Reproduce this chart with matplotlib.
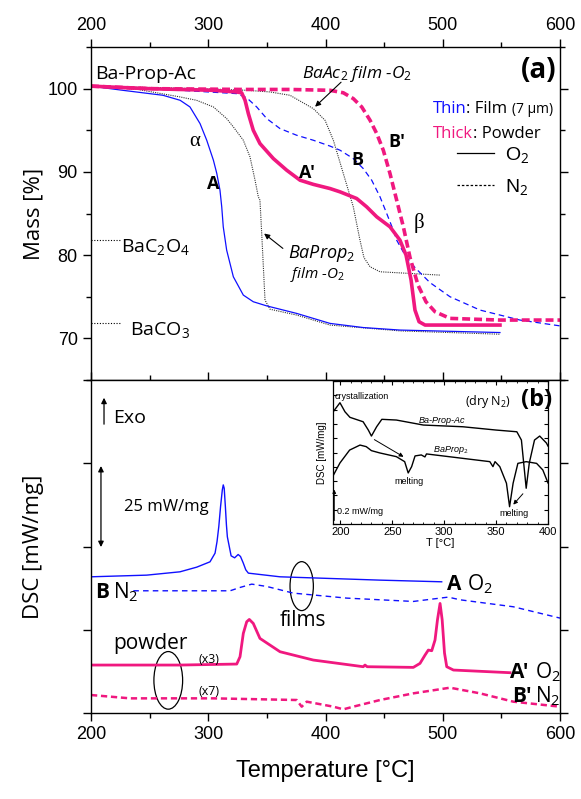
import matplotlib
matplotlib.use('Agg')
import matplotlib.pyplot as plt
from matplotlib.patches import Ellipse
from matplotlib.lines import Line2D
from matplotlib.ticker import MultipleLocator, NullFormatter

plt.rcParams['font.family'] = ['Liberation Sans', 'DejaVu Sans']
plt.rcParams['mathtext.fontset'] = 'custom'
plt.rcParams['mathtext.rm'] = 'Open Sans'
plt.rcParams['mathtext.it'] = 'Open Sans:italic'
plt.rcParams['mathtext.bf'] = 'Open Sans:bold'

BLUE = '#1010ff'
PINK = '#f0187f'
GREY = '#333333'
OS = 'Open Sans'

# ---- (a) TGA, mass [%] vs T [C]
film_o2_T = [200, 227, 261.4, 276, 284.4, 293, 298.7, 304.4, 307.3, 310, 311.5, 312.8, 315.7,
             321.4, 329.9, 338.4, 349.9, 375.4, 403.8, 432.2, 463.5, 548.8]
film_o2_m = [100.3, 99.8, 99.2, 98.6, 97.8, 95.8, 93.8, 91.4, 89.8, 87.8, 85.8, 83.4, 80.6,
             77.4, 75.2, 74.4, 73.9, 73.0, 71.8, 71.3, 71.0, 70.7]

film_n2_T = [200, 276, 324.3, 332.8, 341.3, 349.9, 361.2, 375.4, 389.6, 403.8, 412.4, 423.7, 432.2,
             439.4, 446.5, 452.2, 457.8, 460.7, 467.8, 476.3, 489.1, 506.2, 531.8, 565.9, 600]
film_n2_m = [100.3, 99.8, 99.4, 98.9, 97.8, 96.4, 95.2, 94.4, 93.8, 93.1, 92.6, 91.6, 90.4,
             89.0, 87.0, 85.0, 83.0, 81.8, 80.0, 78.5, 76.7, 75.0, 73.4, 72.2, 71.5]

powder_o2_T = [200, 247.5, 304, 324, 328.5, 331.4, 334.2, 338.4, 344.1, 355.5, 366.9, 378.3, 389.6,
               403.8, 412.4, 426.6, 435.1, 443.7, 455, 463.5, 468.7, 473, 476.3, 479.8, 484.9, 548.8]
powder_o2_m = [100.3, 100.0, 99.8, 99.6, 99.5, 98.6, 97.0, 95.0, 93.4, 91.6, 90.2, 89.0, 88.5,
               88.0, 87.6, 86.8, 85.8, 84.6, 83.4, 81.8, 80.0, 77.0, 73.4, 72.0, 71.6, 71.6]

powder_n2_T = [200, 250, 330, 369.7, 403.8, 415.2, 423.7, 430.9, 438, 443.7, 449.3, 455, 460.7,
               466.4, 472.1, 478.9, 485.7, 493.4, 506.2, 548.8, 600]
powder_n2_m = [100.3, 100.0, 99.9, 99.9, 99.8, 99.5, 98.8, 97.8, 96.2, 94.6, 92.6, 89.8, 86.6,
               83.4, 79.7, 76.4, 74.4, 73.2, 72.4, 72.2, 72.2]

baprop_T = [200, 240, 276, 290, 304.4, 315.7, 321.4, 329.9, 335.6, 339.9, 342.7, 344.1, 345.6,
            347, 348.4, 352.7, 375.4, 403.8, 463.5, 548.8]
baprop_m = [100.3, 99.9, 99.0, 98.6, 97.8, 96.4, 95.4, 93.8, 91.8, 89.0, 87.0, 86.6, 82.6,
            78.6, 74.6, 73.5, 72.8, 71.6, 70.9, 70.5]

baac_T = [200, 293, 333, 352.7, 369.7, 389.6, 399.6, 406.7, 415.2, 423.7, 429.4, 432.8, 438, 446.5, 497.7]
baac_m = [100.3, 100.0, 99.8, 99.6, 99.2, 97.6, 96.2, 93.8, 89.8, 85.8, 81.8, 79.7, 78.6, 78.0, 77.6]

ref_names = ['BaC$_2$O$_4$', 'BaCO$_3$']
ref_mass = [81.8, 71.8]

# ---- (b) DSC (arb. offset, 25 units = 25 mW/mg)
film_o2_dsc_T = [200, 247.5, 275.9, 290.2, 301.5, 305.8, 307.5, 309, 310.5, 312, 312.8, 313.6, 314.6,
                 315.5, 316.3, 319.5, 322.5, 325.5, 327.5, 329.9, 332, 334.2, 361.2, 403.8, 446.5, 499.1]
film_o2_dsc = [40.9, 41.4, 42.4, 43.8, 45.4, 48.0, 51.5, 56.0, 62.0, 67.0, 68.5, 67.5, 62.0,
               56.5, 52.9, 47.2, 46.6, 47.6, 47.0, 45.0, 43.0, 42.0, 40.9, 40.4, 39.9, 39.4]

film_n2_dsc_T = [236.1, 318.6, 327.1, 337.1, 349.9, 372.5, 418.1, 474.9, 497.7, 504.7, 514.7, 560.2, 600]
film_n2_dsc = [36.7, 36.7, 37.7, 38.7, 38.0, 36.0, 34.5, 33.5, 34.5, 34.8, 34.0, 31.9, 28.5]

powder_o2_dsc_T = [200, 275.9, 324.3, 327.1, 329.9, 332.8, 335, 338.4, 344.1, 361.2, 389.6, 432.2,
                   433.7, 435.5, 474.9, 480.6, 484.9, 487.7, 490.6, 493.4, 495.5, 497.7, 499.5,
                   501.5, 503.4, 509.1, 557.4]
powder_o2_dsc = [14.4, 14.4, 14.7, 16.9, 23.9, 27.4, 28.1, 26.9, 22.4, 18.4, 15.9, 13.9,
                 14.4, 13.9, 13.7, 14.9, 17.4, 18.9, 18.7, 21.9, 28.0, 32.9, 28.0,
                 18.0, 13.9, 12.9, 12.1]

powder_n2_dsc_T = [200, 233.3, 304.3, 375.4, 379.7, 384, 406.7, 415.2, 423.7, 446.5, 474.9, 506.2,
                   531.8, 560.2, 600]
powder_n2_dsc = [5.4, 4.4, 4.4, 3.9, 1.9, 3.4, 1.9, 1.1, 1.9, 3.9, 5.9, 7.6, 5.9, 3.4, 1.9]

# ---- inset, dry N2
ins_bpa_T = [193, 199.7, 204.5, 209.3, 222, 227, 230, 235, 240, 254, 280, 318, 350, 370, 374.4,
             379, 382, 387, 392, 398.5, 400]
ins_bpa = [7.83, 8.48, 7.85, 7.46, 7.15, 6.57, 6.15, 6.80, 7.32, 7.27, 6.92, 6.80, 6.57, 6.45, 5.87,
           2.50, 4.27, 5.87, 6.15, 5.66, 5.45]
ins_bp_T = [193, 199.7, 209, 219, 225, 230, 238, 254, 262, 265.4, 268.7, 272, 278, 281.5, 283, 318,
            344, 347, 349, 353.6, 360, 363, 366.4, 371, 379, 389, 395, 400]
ins_bp = [3.36, 4.27, 5.17, 5.52, 5.41, 5.13, 4.97, 4.71, 4.36, 3.57, 4.01, 4.76, 4.83, 4.69, 4.90, 4.59,
          4.36, 4.01, 4.36, 4.01, 2.85, 1.21, 2.85, 4.24, 4.36, 4.24, 3.78, 2.87]

fig = plt.figure(figsize=(5.81, 7.99), dpi=100)
ax1 = fig.add_axes([91/581, 1-380/799, 469/581, 333/799])
ax2 = fig.add_axes([91/581, 1-713/799, 469/581, 333/799])
ins = fig.add_axes([333/581, 1-524/799, 215/581, 143/799])

for ax in (ax1, ax2):
    ax.set_xlim(200, 600)
    ax.xaxis.set_major_locator(MultipleLocator(100))
    ax.xaxis.set_minor_locator(MultipleLocator(50))
    for s in ax.spines.values():
        s.set_linewidth(1.0)
    ax.tick_params(which='both', direction='out', width=1.0, labelsize=13)
    ax.tick_params(which='major', length=6)
    ax.tick_params(which='minor', length=3.5)

# panel a
ax1.set_ylim(65, 105)
ax1.yaxis.set_major_locator(MultipleLocator(10))
ax1.yaxis.set_minor_locator(MultipleLocator(5))
ax1.tick_params(axis='x', which='both', top=True, bottom=False, labeltop=True, labelbottom=False)
ax1.tick_params(axis='y', which='both', left=True, right=True, labelright=False)
ax1.set_ylabel('Mass [%]', fontsize=16, family=OS)
ax1.yaxis.set_label_coords(-0.1, 0.5)

ax1.plot(baprop_T, baprop_m, color=GREY, lw=0.8, ls=(0, (1, 1)))
ax1.plot(baac_T, baac_m, color=GREY, lw=0.8, ls=(0, (1, 1)))
ax1.plot(film_o2_T, film_o2_m, color=BLUE, lw=0.9)
ax1.plot(film_n2_T, film_n2_m, color=BLUE, lw=0.9, ls=(0, (4.5, 3)))
ax1.plot(powder_n2_T, powder_n2_m, color=PINK, lw=2.6, ls=(0, (2.2, 1.1)))
ax1.plot(powder_o2_T, powder_o2_m, color=PINK, lw=2.6)

for nm, m, xt in zip(ref_names, ref_mass, [225.6, 233.3]):
    ax1.axhline(m, xmin=0, xmax=0.065, color='k', lw=0.8, ls=(0, (1, 1.5)))
    ax1.text(xt, m - 1.4, nm, fontsize=14, family=OS, va='baseline')

ax1.text(203.4, 101.8, 'Ba-Prop-Ac', fontsize=14, family=OS, va='center')
ax1.text(597, 102.2, '(a)', fontsize=20, family=OS, fontweight='bold', ha='right', va='center')
ax1.text(426.9, 101.3, 'BaAc$_2$ film -O$_2$', fontsize=12.5, family=OS, style='italic',
         ha='center', va='baseline')
ax1.annotate('', xy=(389.4, 97.6), xytext=(415, 101.0),
             arrowprops=dict(arrowstyle='-|>', color='k', lw=0.8, mutation_scale=8))
ax1.text(397, 79.6, 'BaProp$_2$', fontsize=13, family=OS, style='italic', ha='center', va='baseline')
ax1.text(393, 77.3, 'film -O$_2$', fontsize=11, family=OS, style='italic', ha='center', va='baseline')
ax1.annotate('', xy=(345.8, 82.8), xytext=(365.5, 80.6),
             arrowprops=dict(arrowstyle='-|>', color='k', lw=0.8, mutation_scale=8))

ax1.text(288.7, 93.6, 'α', fontsize=15, family='Liberation Serif', ha='center', va='center')
ax1.text(480, 83.8, 'β', fontsize=15, family='Liberation Serif', ha='center', va='center')
for lab, x, y in [('A', 304.1, 88.5), ("A'", 384.2, 89.9), ('B', 426.9, 91.4), ("B'", 461, 93.6)]:
    ax1.text(x, y, lab, fontsize=13, family=OS, fontweight='bold', ha='center', va='center')

t = ax1.text(491.4, 97.6, 'Thin', color=BLUE, fontsize=12, family=OS, va='center')
t = ax1.annotate(': Film ', xy=(1, 0), xycoords=t, va='bottom', fontsize=12, family=OS)
ax1.annotate('(7 μm)', xy=(1, 0), xycoords=t, va='bottom', fontsize=10, family=OS)
t = ax1.text(491.4, 94.6, 'Thick', color=PINK, fontsize=12, family=OS, va='center')
ax1.annotate(': Powder', xy=(1, 0), xycoords=t, va='bottom', fontsize=12, family=OS)

handles = [Line2D([], [], color='k', lw=0.9), Line2D([], [], color='k', lw=0.9, ls=(0, (2, 1.5)))]
leg = ax1.legend(handles, ['O$_2$', 'N$_2$'], loc='upper left', bbox_to_anchor=(0.78, 0.705),
                 frameon=False, fontsize=14, handlelength=1.9, handletextpad=0.6,
                 labelspacing=0.6, borderpad=0, borderaxespad=0)

# panel b
ax2.set_ylim(0, 100)
ax2.yaxis.set_major_locator(MultipleLocator(25))
ax2.yaxis.set_major_formatter(NullFormatter())
ax2.tick_params(axis='y', which='both', left=True, right=True, labelleft=False)
ax2.tick_params(axis='x', which='both', top=True, direction='out')
ax2.set_xlabel('Temperature [°C]', fontsize=17, labelpad=12)
ax2.set_ylabel('DSC [mW/mg]', fontsize=16, family=OS)
ax2.yaxis.set_label_coords(-0.1, 0.5)

ax2.plot(film_o2_dsc_T, film_o2_dsc, color=BLUE, lw=1.0)
ax2.plot(film_n2_dsc_T, film_n2_dsc, color=BLUE, lw=1.0, ls=(0, (4, 3)))
ax2.plot(powder_o2_dsc_T, powder_o2_dsc, color=PINK, lw=2.0)
ax2.plot(powder_n2_dsc_T, powder_n2_dsc, color=PINK, lw=1.8, ls=(0, (2.5, 1.5)))

ax2.annotate('', xy=(211.1, 95.5), xytext=(211.1, 85.9),
             arrowprops=dict(arrowstyle='-|>', color='k', lw=0.9, mutation_scale=8))
ax2.text(218.8, 88.6, 'Exo', fontsize=14, family=OS, va='center')
ax2.annotate('', xy=(208.5, 49), xytext=(208.5, 75),
             arrowprops=dict(arrowstyle='<|-|>', color='k', lw=0.9, mutation_scale=8))
ax2.text(228, 62, '25 mW/mg', fontsize=12, family=OS, va='center')

ax2.text(203.4, 34.4, 'B', fontsize=15, family=OS, fontweight='bold', va='baseline')
ax2.text(219, 34.4, 'N$_2$', fontsize=15, family=OS, va='baseline')
ax2.text(503.4, 36.9, 'A', fontsize=15, family=OS, fontweight='bold', va='baseline')
ax2.text(520.4, 36.9, 'O$_2$', fontsize=15, family=OS, va='baseline')
ax2.text(557.4, 10.4, "A'", fontsize=15, family=OS, fontweight='bold', va='baseline')
ax2.text(579, 10.4, 'O$_2$', fontsize=15, family=OS, va='baseline')
ax2.text(558.8, 3.3, "B'", fontsize=15, family=OS, fontweight='bold', va='baseline')
ax2.text(579, 3.3, 'N$_2$', fontsize=15, family=OS, va='baseline')

ax2.text(381, 27.9, 'films', fontsize=15, family=OS, ha='center', va='center')
ax2.add_patch(Ellipse((379.7, 38.1), 19.9, 14.7, fill=False, ec='k', lw=0.9))
ax2.text(251, 20.9, 'powder', fontsize=15, family=OS, ha='center', va='center')
ax2.add_patch(Ellipse((265.9, 9.8), 24.5, 17.3, fill=False, ec='k', lw=0.9))
ax2.text(300.7, 16.1, '(x3)', fontsize=9, family=OS, ha='center', va='center')
ax2.text(300.7, 6.4, '(x7)', fontsize=9, family=OS, ha='center', va='center')

# inset
ins.set_xlim(193, 400)
ins.set_ylim(0, 10)
ins.xaxis.set_major_locator(MultipleLocator(50))
ins.xaxis.set_minor_locator(MultipleLocator(10))
ins.yaxis.set_major_locator(MultipleLocator(1))
ins.yaxis.set_major_formatter(NullFormatter())
ins.tick_params(which='both', direction='in', top=True, right=True, labelsize=8, pad=2)
ins.tick_params(which='major', length=3)
ins.tick_params(which='minor', length=1.5)
for s in ins.spines.values():
    s.set_linewidth(0.9)
ins.set_xlabel('T [°C]', fontsize=8, labelpad=1)
ins.set_ylabel('DSC [mW/mg]', fontsize=7, labelpad=2)

ins.plot(ins_bpa_T, ins_bpa, color='k', lw=1.0)
ins.plot(ins_bp_T, ins_bp, color='k', lw=1.0)
ins.text(195, 8.95, 'crystallization', fontsize=6.5, va='center')
ins.text(298, 7.22, 'Ba-Prop-Ac', fontsize=6.5, style='italic', ha='center', va='center')
ins.text(306, 5.17, 'BaProp$_2$', fontsize=6.5, style='italic', ha='center', va='center')
ins.text(266, 2.96, 'melting', fontsize=6.5, ha='center', va='center')
ins.text(367, 0.7, 'melting', fontsize=6.5, ha='center', va='center')
ins.text(342, 8.55, '(dry N$_2$)', fontsize=9, family=OS, ha='center', va='center')
ins.text(389, 8.67, '(b)', fontsize=17, family=OS, fontweight='bold', ha='center', va='center')
ins.annotate('', xy=(263.2, 4.6), xytext=(230.5, 6.0),
             arrowprops=dict(arrowstyle='-|>', color='k', lw=0.7, mutation_scale=6))
ins.annotate('', xy=(364.8, 1.21), xytext=(377.6, 2.26),
             arrowprops=dict(arrowstyle='-|>', color='k', lw=0.7, mutation_scale=6))
ins.annotate('', xy=(194.2, 2.6), xytext=(194.2, 0.05),
             arrowprops=dict(arrowstyle='-|>', color='k', lw=0.7, mutation_scale=5))
ins.text(197.2, 0.86, '0.2 mW/mg', fontsize=6.5, va='center')

fig.savefig('out.png', dpi=100)
